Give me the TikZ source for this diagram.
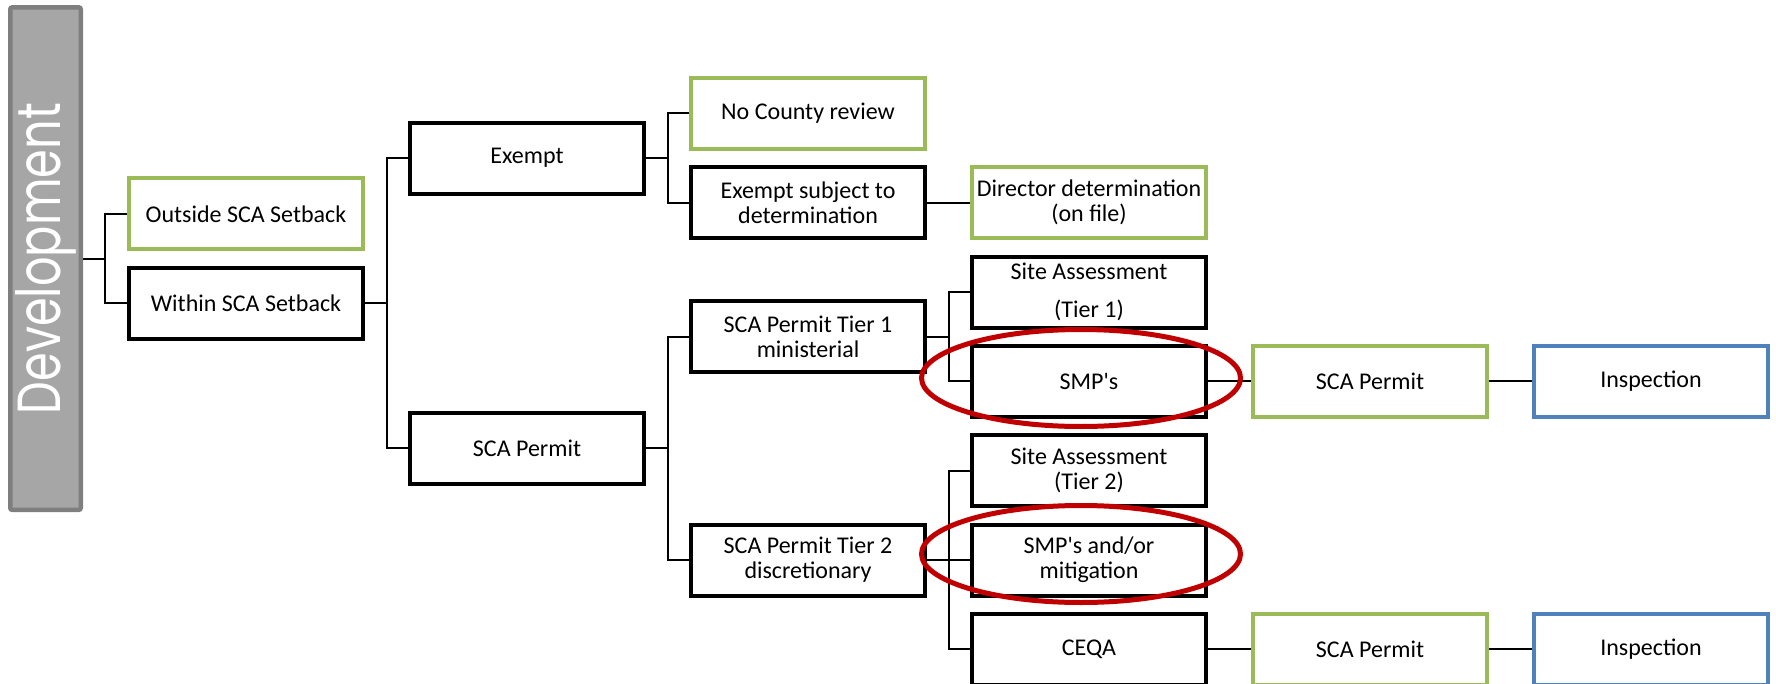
\documentclass[tikz,border=0pt]{standalone}
\usepackage{fontspec}
\setmainfont{Carlito}
\newfontfamily\devfont{Poppins}
\usetikzlibrary{positioning,calc,backgrounds}

\definecolor{boxgreen}{HTML}{9BBB59}
\definecolor{boxblue}{HTML}{4F81BD}
\definecolor{ringred}{HTML}{C00000}
\definecolor{devfill}{HTML}{A6A6A6}
\definecolor{devedge}{HTML}{7F7F7F}

\tikzset{
  box/.style={draw, line width=2pt, minimum width=117pt, minimum height=35.5pt,
    inner sep=0pt, align=center, font=\fontsize{12}{12.5}\selectfont},
  blkbox/.style={box, draw=black},
  grnbox/.style={box, draw=boxgreen},
  bluebox/.style={box, draw=boxblue},
  devbar/.style={draw=devedge, fill=devfill, line width=2.25pt, rounded corners=1pt,
    minimum width=35.25pt, minimum height=251.25pt, inner sep=0pt, text=white},
  conn/.style={line width=1pt},
  ring/.style={draw=ringred, line width=2.5pt}
}

% elbow connectors from one parent to a list of children
\newcommand{\branchto}[2]{%
  \foreach \kid in {#2}{\draw[conn] (#1.east) -- ++(10.75pt,0) |- (\kid.west);}}

\begin{document}
\begin{tikzpicture}[node distance=7.15pt and 21.5pt]

    \useasboundingbox (0,0) rectangle (888pt,-342pt);

    % Define nodes
    \node[grnbox] at (404pt,-56.75pt)  (nocounty) {No County review};
    \node[blkbox, below=of nocounty]   (exsubj) {Exempt subject to\\determination};
    \node[grnbox, right=of exsubj]     (director) {Director determination\\(on file)};
    \node[blkbox, below=of director]   (site1) {Site Assessment\\[6.5pt](Tier 1)};
    \node[blkbox, below=of site1]      (smp1) {SMP\textquotesingle s};
    \node[grnbox, right=of smp1]       (permit1) {SCA Permit};
    \node[bluebox, right=of permit1]   (insp1) {Inspection};
    \node[blkbox, below=of smp1]       (site2) {Site Assessment\\(Tier 2)};
    \node[blkbox, below=of site2]      (smp2) {SMP\textquotesingle s and/or\\mitigation};
    \node[blkbox, below=of smp2]       (ceqa) {CEQA};
    \node[grnbox, right=of ceqa]       (permit2) {SCA Permit};
    \node[bluebox, right=of permit2]   (insp2) {Inspection};

    \coordinate (mid1) at ($(site1.west)!0.5!(smp1.west)$);
    \node[blkbox, left=of mid1]        (tier1) {SCA Permit Tier 1\\ministerial};
    \node[blkbox, left=of smp2]        (tier2) {SCA Permit Tier 2\\discretionary};

    \coordinate (mid2) at ($(nocounty.west)!0.5!(exsubj.west)$);
    \node[blkbox, left=of mid2]        (exempt) {Exempt};
    \coordinate (mid3) at ($(tier1.west)!0.5!(tier2.west)$);
    \node[blkbox, left=of mid3]        (permit) {SCA Permit};

    \coordinate (mid4) at ($(exempt.west)!0.5!(permit.west)$);
    \node[blkbox, left=of mid4]        (within) {Within SCA Setback};
    \node[grnbox, above=of within]     (outside) {Outside SCA Setback};

    \coordinate (mid5) at ($(outside.west)!0.5!(within.west)$);
    \node[devbar, left=22pt of mid5]   (dev) {\rotatebox{90}{\resizebox{155.5pt}{22.5pt}{\devfont Development}}};

    % Connect the nodes
    \begin{scope}[on background layer]
      \branchto{dev}{outside,within}
      \branchto{within}{exempt,permit}
      \branchto{exempt}{nocounty,exsubj}
      \branchto{exsubj}{director}
      \branchto{permit}{tier1,tier2}
      \branchto{tier1}{site1,smp1}
      \branchto{tier2}{site2,smp2,ceqa}
      \branchto{smp1}{permit1}
      \branchto{permit1}{insp1}
      \branchto{ceqa}{permit2}
      \branchto{permit2}{insp2}
    \end{scope}

    % Rings
    \draw[ring] (smp1) ++(-4pt,1.7pt) ellipse [x radius=79.75pt, y radius=24.25pt];
    \draw[ring] (smp2) ++(-4pt,3pt) ellipse [x radius=79.75pt, y radius=24.25pt];

\end{tikzpicture}
\end{document}
